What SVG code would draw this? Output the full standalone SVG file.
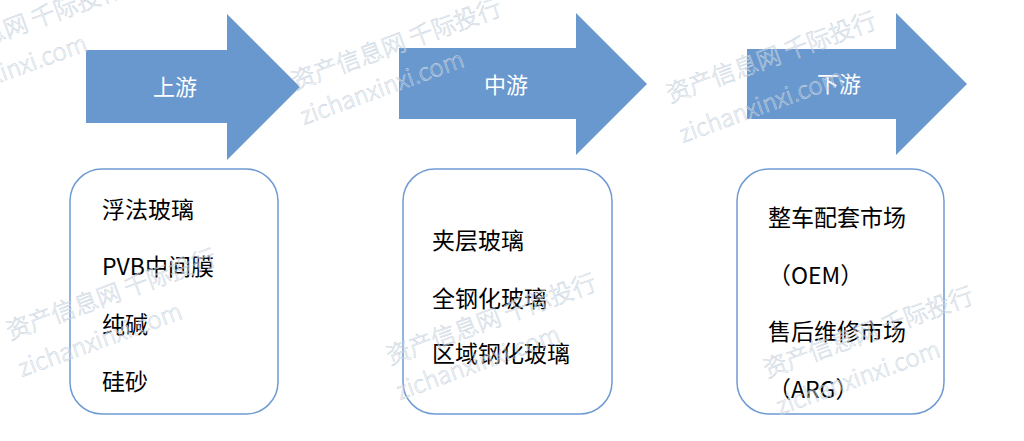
<svg xmlns="http://www.w3.org/2000/svg" width="1024" height="441" viewBox="0 0 1024 441">
<style>
.arrow{fill:#6898cd;}
.head{font-family:"Noto Sans CJK SC","Noto Sans",sans-serif;font-size:22px;fill:#ffffff;text-anchor:middle;}
.box{fill:#ffffff;stroke:#6f9bd3;stroke-width:1.5;}
.t{font-family:"Noto Sans CJK SC","Noto Sans",sans-serif;font-size:23px;fill:#000000;}
.wm{font-family:"Noto Sans CJK SC","Noto Sans",sans-serif;font-size:24px;font-weight:300;fill:none;stroke:#c9d4e0;stroke-width:0.55;}
</style>
<rect width="1024" height="441" fill="#ffffff"/>
<g id="upstream">
<polygon class="arrow" points="86,50 227,50 227,14 300,87 227,160 227,123 86,123"/>
<text class="head" x="175" y="95">上游</text>
</g>
<g id="midstream">
<polygon class="arrow" points="399,48 576,48 576,13 647,84 576,155 576,119 399,119"/>
<text class="head" x="506" y="93">中游</text>
</g>
<g id="downstream">
<polygon class="arrow" points="747,49 896,49 896,13 967,84 896,155 896,119 747,119"/>
<text class="head" x="839" y="92">下游</text>
</g>
<g id="upstream-box">
<rect class="box" x="70" y="169" width="208" height="245" rx="32"/>
<text class="t" x="102" y="218">浮法玻璃</text>
<text class="t" x="102" y="275">PVB中间膜</text>
<text class="t" x="102" y="333">纯碱</text>
<text class="t" x="102" y="390">硅砂</text>
</g>
<g id="midstream-box">
<rect class="box" x="403" y="169" width="209" height="245" rx="32"/>
<text class="t" x="432" y="249">夹层玻璃</text>
<text class="t" x="432" y="307">全钢化玻璃</text>
<text class="t" x="432" y="362">区域钢化玻璃</text>
</g>
<g id="downstream-box">
<rect class="box" x="737" y="169" width="207" height="245" rx="32"/>
<text class="t" x="768" y="226">整车配套市场</text>
<text class="t" x="768" y="284">（OEM）</text>
<text class="t" x="768" y="340">售后维修市场</text>
<text class="t" x="768" y="398">（ARG）</text>
</g>
<g id="connectors"></g>
<g id="watermarks">
<text class="wm" x="-83" y="71" transform="rotate(-20 -83 71)">资产信息网 千际投行</text>
<text class="wm" x="-73" y="109" transform="rotate(-20 -73 109)">zichanxinxi.com</text>
<text class="wm" x="295" y="90" transform="rotate(-20 295 90)">资产信息网 千际投行</text>
<text class="wm" x="304" y="125" transform="rotate(-20 304 125)">zichanxinxi.com</text>
<text class="wm" x="670" y="103" transform="rotate(-20 670 103)">资产信息网 千际投行</text>
<text class="wm" x="683" y="143" transform="rotate(-20 683 143)">zichanxinxi.com</text>
<text class="wm" x="10" y="340" transform="rotate(-20 10 340)">资产信息网 千际投行</text>
<text class="wm" x="22" y="377" transform="rotate(-20 22 377)">zichanxinxi.com</text>
<text class="wm" x="390" y="365" transform="rotate(-20 390 365)">资产信息网 千际投行</text>
<text class="wm" x="400" y="400" transform="rotate(-20 400 400)">zichanxinxi.com</text>
<text class="wm" x="767" y="378" transform="rotate(-20 767 378)">资产信息网 千际投行</text>
<text class="wm" x="780" y="415" transform="rotate(-20 780 415)">zichanxinxi.com</text>
</g>
</svg>
